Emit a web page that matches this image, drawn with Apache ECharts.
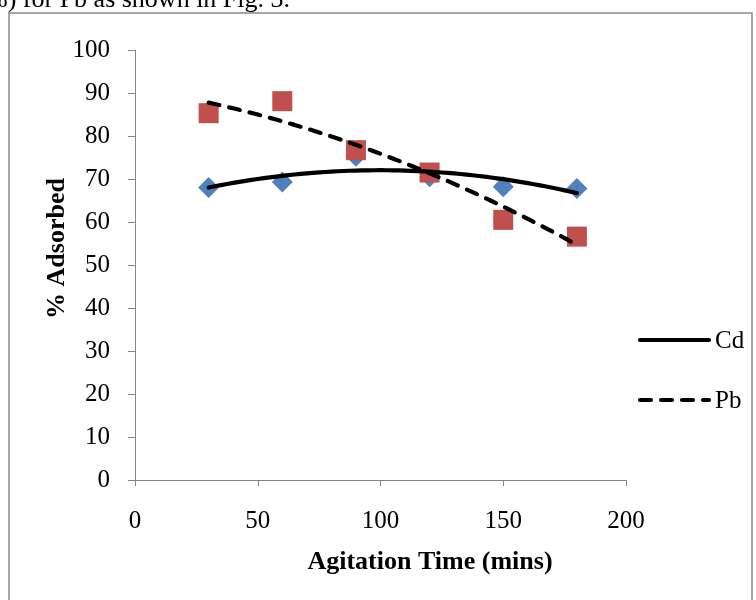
<!DOCTYPE html>
<html>
<head>
<meta charset="utf-8">
<script src="https://cdn.jsdelivr.net/npm/echarts@6/dist/echarts.min.js"></script>
<style>
  html, body { margin: 0; padding: 0; background: #fff; }
  #chart { width: 756px; height: 600px; }
</style>
</head>
<body>
<div id="chart"></div>
<script>
// Agitation time (minutes) and percent adsorbed for each metal
const agitationTime = [30, 60, 90, 120, 150, 180];
const cdAdsorbed = [68.0, 69.3, 75.3, 70.5, 68.2, 67.8];
const pbAdsorbed = [85.3, 88.1, 76.7, 71.5, 60.5, 56.6];
const seriesNames = ['Cd', 'Pb'];

// Second-order polynomial least-squares trend line through the points
function polyTrend(xs, ys, steps) {
  let n = xs.length, s1 = 0, s2 = 0, s3 = 0, s4 = 0, t0 = 0, t1 = 0, t2 = 0;
  for (let i = 0; i < n; i++) {
    const x = xs[i], y = ys[i];
    s1 += x; s2 += x * x; s3 += x * x * x; s4 += x * x * x * x;
    t0 += y; t1 += x * y; t2 += x * x * y;
  }
  // Solve the 3x3 normal equations by Cramer's rule
  const M = [[n, s1, s2], [s1, s2, s3], [s2, s3, s4]];
  const R = [t0, t1, t2];
  const det = m => m[0][0] * (m[1][1] * m[2][2] - m[1][2] * m[2][1])
                 - m[0][1] * (m[1][0] * m[2][2] - m[1][2] * m[2][0])
                 + m[0][2] * (m[1][0] * m[2][1] - m[1][1] * m[2][0]);
  const D = det(M);
  const coef = [0, 1, 2].map(k => det(M.map((row, r) => row.map((v, c) => c === k ? R[r] : v))) / D);
  const x0 = xs[0], x1 = xs[n - 1], pts = [];
  for (let j = 0; j <= steps; j++) {
    const x = x0 + (x1 - x0) * j / steps;
    pts.push([x, coef[0] + coef[1] * x + coef[2] * x * x]);
  }
  return pts;
}

const pair = (xs, ys) => xs.map((x, i) => [x, ys[i]]);
const serif = '"Liberation Serif", "Times New Roman", serif';
const axisGrey = '#868686';

const chart = echarts.init(document.getElementById('chart'), null, { renderer: 'canvas' });
chart.setOption({
  backgroundColor: '#fff',
  animation: false,
  grid: { left: 135, right: 130, top: 50, bottom: 120, containLabel: false },
  xAxis: {
    type: 'value', min: 0, max: 200, interval: 50,
    name: 'Agitation Time (mins)', nameLocation: 'middle', nameGap: 69,
    nameTextStyle: { fontFamily: serif, fontWeight: 'bold', fontSize: 26, color: '#000', padding: [0, 0, 0, 99] },
    axisLine: { show: true, lineStyle: { color: axisGrey, width: 1 } },
    axisTick: { show: true, length: 6, lineStyle: { color: axisGrey } },
    axisLabel: { fontFamily: serif, fontSize: 25, color: '#000', margin: 29 },
    splitLine: { show: false }
  },
  yAxis: {
    type: 'value', min: 0, max: 100, interval: 10,
    name: '% Adsorbed', nameLocation: 'middle', nameGap: 65, nameRotate: 90,
    nameMoveOverlap: false,
    nameTextStyle: { fontFamily: serif, fontWeight: 'bold', fontSize: 26, color: '#000', padding: [0, 0, 0, 33] },
    axisLine: { show: true, lineStyle: { color: axisGrey, width: 1 } },
    axisTick: { show: true, length: 7, lineStyle: { color: axisGrey } },
    axisLabel: { fontFamily: serif, fontSize: 25, color: '#000', margin: 25 },
    splitLine: { show: false }
  },
  series: [
    {
      name: seriesNames[0] + ' data', type: 'scatter', z: 2,
      symbol: 'diamond', symbolSize: 21,
      itemStyle: { color: '#4F81BD', opacity: 1 },
      data: pair(agitationTime, cdAdsorbed)
    },
    {
      name: seriesNames[1] + ' data', type: 'scatter', z: 3,
      symbol: 'rect', symbolSize: 20,
      itemStyle: { color: '#C0504D', opacity: 1 },
      data: pair(agitationTime, pbAdsorbed)
    },
    {
      name: seriesNames[0], type: 'line', z: 4, showSymbol: false, symbol: 'none',
      lineStyle: { color: '#000', width: 4.2, cap: 'round' },
      data: polyTrend(agitationTime, cdAdsorbed, 60)
    },
    {
      name: seriesNames[1], type: 'line', z: 5, showSymbol: false, symbol: 'none',
      lineStyle: { color: '#000', width: 4.2, type: [11, 10], cap: 'round' },
      data: polyTrend(agitationTime, pbAdsorbed, 60)
    }
  ],
  graphic: [
    // outer frame of the figure
    { type: 'rect', shape: { x: 9, y: 13, width: 743, height: 620 }, style: { fill: null, stroke: '#8a8a8a', lineWidth: 1.5 }, silent: true },
    // running text above the figure
    { type: 'text', left: -14, top: -13, style: { text: '%) for Pb as shown in Fig. 3.', font: '26px ' + serif, fill: '#000' } },
    // legend
    { type: 'line', shape: { x1: 640, y1: 340, x2: 709, y2: 340 }, style: { stroke: '#000', lineWidth: 4.2, lineCap: 'round' } },
    { type: 'text', x: 715, y: 341, style: { text: seriesNames[0], font: '25px ' + serif, fill: '#000', textVerticalAlign: 'middle' } },
    { type: 'line', shape: { x1: 640, y1: 400, x2: 709, y2: 400 }, style: { stroke: '#000', lineWidth: 4.2, lineDash: [11, 10], lineCap: 'round' } },
    { type: 'text', x: 715, y: 401, style: { text: seriesNames[1], font: '25px ' + serif, fill: '#000', textVerticalAlign: 'middle' } }
  ]
});
</script>
</body>
</html>
